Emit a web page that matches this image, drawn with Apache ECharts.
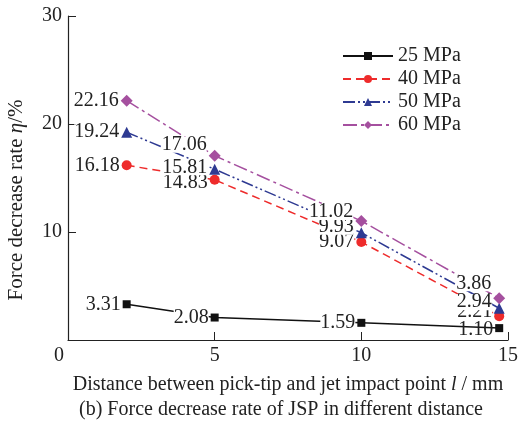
<!DOCTYPE html>
<html><head><meta charset="utf-8">
<script src="https://cdn.jsdelivr.net/npm/echarts@6/dist/echarts.min.js"></script>
<style>html,body{margin:0;padding:0;background:#fff}#c{width:521px;height:430px}</style>
</head><body><div id="c"></div>
<script>
const distances = [2, 5, 10, 14.7];
const p25 = [3.31, 2.08, 1.59, 1.10];
const p40 = [16.18, 14.83, 9.07, 2.21];
const p50 = [19.24, 15.81, 9.93, 2.94];
const p60 = [22.16, 17.06, 11.02, 3.86];
const seriesNames = ['25 MPa', '40 MPa', '50 MPa', '60 MPa'];
const xTicks = [0, 5, 10, 15];
const yTicks = [10, 20, 30];

const FONT = 'Liberation Serif';
const FS = 20;
const off25 = [[0,0],[0,0],[0,0],[0,2]];
const off40 = [[0,0],[0,3],[0,0],[0,-4]];
const off50 = [[0,0],[0,-2],[0,-6],[0,-6]];
const off60 = [[0,0],[0,-11],[0,-9],[0,-15]];

function mk(vals, offs, clearLast) {
  return vals.map((v, i) => {
    const lab = { offset: offs[i] };
    if (clearLast && i === vals.length - 1) lab.backgroundColor = 'transparent';
    return { value: [distances[i], v], label: lab };
  });
}
function ser(name, vals, offs, color, symbol, size, ltype, clearLast) {
  return {
    name, type: 'line', data: mk(vals, offs, clearLast), symbol, symbolSize: size,
    itemStyle: { color },
    lineStyle: { color, width: 1.5, type: ltype },
    label: {
      show: true, position: 'left', distance: 2,
      formatter: p => p.value[1].toFixed(2),
      fontFamily: FONT, fontSize: FS, color: '#222',
      backgroundColor: '#fff', padding: [0, 0], lineHeight: 16
    },
    emphasis: { disabled: true },
    animation: false, z: 3
  };
}

const chart = echarts.init(document.getElementById('c'));
chart.setOption({
  backgroundColor: '#fff',
  animation: false,
  grid: { left: 68, top: 16, right: 10, bottom: 90 },
  xAxis: {
    type: 'value', min: 0, max: 15, interval: 5,
    axisLine: { lineStyle: { color: '#222', width: 1.2 } },
    axisTick: { inside: true, length: 8, lineStyle: { color: '#222' } },
    splitLine: { show: false },
    axisLabel: { fontFamily: FONT, fontSize: FS, color: '#222', margin: 6,
      formatter: v => v === 0 ? '{z|0}' : (xTicks.includes(v) ? String(v) : ''),
      rich: { z: { fontFamily: FONT, fontSize: FS, color: '#222', padding: [0, 18, 0, 0] } } }
  },
  yAxis: {
    type: 'value', min: 0, max: 30, interval: 10,
    axisLine: { show: true, lineStyle: { color: '#222', width: 1.2 } },
    axisTick: { show: true, inside: true, length: 8, lineStyle: { color: '#222' } },
    splitLine: { show: false },
    axisLabel: { fontFamily: FONT, fontSize: FS, color: '#222', margin: 6,
      formatter: v => yTicks.includes(v) ? String(v) : '' }
  },
  legend: {
    orient: 'vertical', left: 337, top: 41, itemWidth: 50, itemHeight: 10, itemGap: 3,
    data: seriesNames,
    textStyle: { fontFamily: FONT, fontSize: FS, color: '#222' }
  },
  graphic: [
    { type: 'text', x: 288, y: 385,
      style: { rich: { n: { fontFamily: FONT, fontSize: FS, fill: '#222' }, i: { fontFamily: FONT, fontSize: FS, fontStyle: 'italic', fill: '#222' } },
        text: '{n|Distance between pick-tip and jet impact point }{i|l}{n| / mm}', align: 'center', verticalAlign: 'middle' } },
    { type: 'text', x: 281, y: 410,
      style: { text: '(b) Force decrease rate of JSP in different distance', fontFamily: FONT, fontSize: FS, fill: '#222', align: 'center', verticalAlign: 'middle' } },
    { type: 'text', x: 16, y: 200, rotation: Math.PI / 2,
      style: { rich: { n: { fontFamily: FONT, fontSize: 21, fill: '#222' }, i: { fontFamily: FONT, fontSize: 21, fontStyle: 'italic', fill: '#222' } },
        text: '{n|Force decrease rate }{i|η}{n|/%}', align: 'center', verticalAlign: 'middle' } }
  ],
  series: [
    ser(seriesNames[0], p25, off25, '#111111', 'rect', 8, 'solid', true),
    ser(seriesNames[1], p40, off40, '#ee2b2b', 'circle', 10, [8, 5], false),
    ser(seriesNames[2], p50, off50, '#2e3a92', 'triangle', 11, [12, 3, 2, 3, 2, 3], false),
    ser(seriesNames[3], p60, off60, '#a5509f', 'diamond', 12, [14, 4, 3, 4], false)
  ]
});
</script></body></html>
